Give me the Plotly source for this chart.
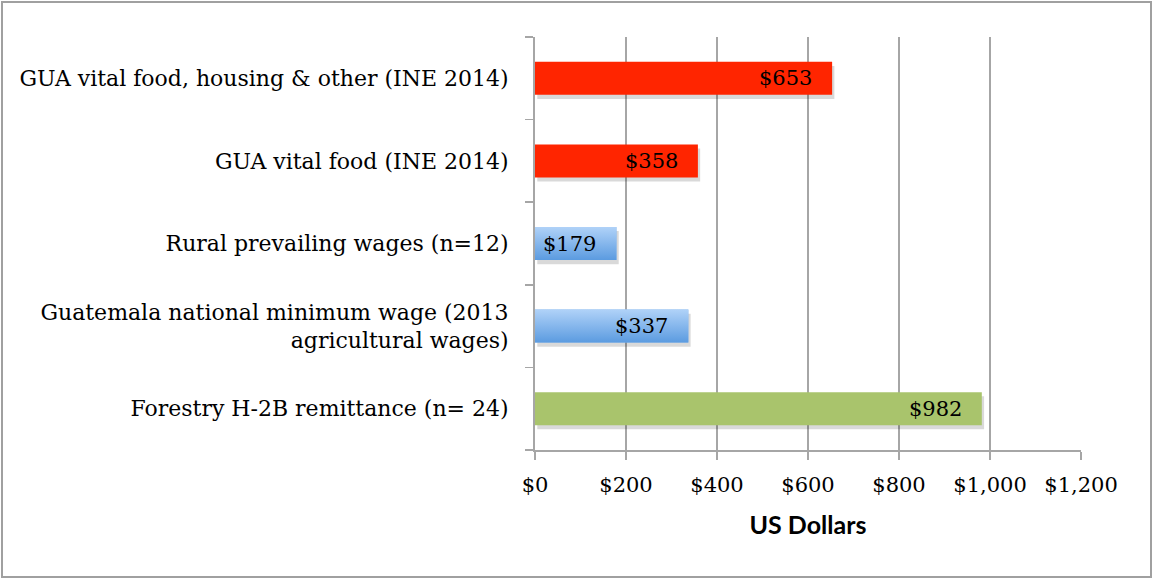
import plotly.graph_objects as go

categories = [
    "Forestry H-2B remittance (n= 24)",
    "Guatemala national minimum wage (2013<br>agricultural wages)",
    "Rural prevailing wages (n=12)",
    "GUA vital food (INE 2014)",
    "GUA vital food, housing & other (INE 2014)",
]
values = [982, 337, 179, 358, 653]
colors = ["#a9c46c", "#80b3ec", "#80b3ec", "#ff2500", "#ff2500"]
gradient = [False, True, True, False, False]
x_ticks = [0, 200, 400, 600, 800, 1000, 1200]
x_ticktext = ["$0", "$200", "$400", "$600", "$800", "$1,000", "$1,200"]

pos = list(range(len(categories)))
half = 0.2
serif = "DejaVu Serif"

fig = go.Figure()

# shadows
fig.add_trace(go.Bar(
    x=values, y=[p - 0.05 for p in pos], base=[5] * len(values), orientation="h",
    width=2 * half, marker=dict(color="rgba(0,0,0,0.15)", line=dict(width=0)),
    hoverinfo="skip", showlegend=False,
))

fig.add_trace(go.Bar(
    x=values, y=pos, orientation="h", width=2 * half,
    marker=dict(color=colors, line=dict(width=0)),
    hoverinfo="skip", showlegend=False,
))

# vertical gradient overlay for the blue bars
for v, p, g in zip(values, pos, gradient):
    if not g:
        continue
    fig.add_trace(go.Scatter(
        x=[0, v, v, 0, 0], y=[p - half, p - half, p + half, p + half, p - half],
        mode="lines", line=dict(width=0), fill="toself",
        fillgradient=dict(type="vertical",
                          colorscale=[[0, "#5b9be0"], [1, "#b0d2f8"]]),
        hoverinfo="skip", showlegend=False,
    ))

annotations = [
    dict(x=v, y=p, xref="x", yref="y", text=f"${v}", showarrow=False,
         xanchor="right", yanchor="middle", xshift=-18,
         font=dict(family=serif, size=21, color="black"))
    for v, p in zip(values, pos)
]

fig.update_layout(
    width=1153, height=578,
    margin=dict(l=535, r=72, t=37, b=128),
    plot_bgcolor="white", paper_bgcolor="white",
    bargap=0.6,
    hovermode=False,
    annotations=annotations,
    xaxis=dict(
        range=[0, 1200], tickvals=x_ticks, ticktext=x_ticktext,
        showgrid=True, gridcolor="#a6a6a6", gridwidth=1.5,
        showline=True, linecolor="#a6a6a6", linewidth=2,
        ticks="outside", ticklen=8, tickcolor="#a6a6a6", tickwidth=1.5,
        tickfont=dict(family=serif, size=21, color="black"),
        ticklabelstandoff=7,
        zeroline=False,
        title=dict(text="<b>US Dollars</b>", font=dict(family="Lato", size=25, color="black"), standoff=20),
    ),
    yaxis=dict(
        range=[-0.5, 4.5], tickvals=pos, ticktext=categories,
        showgrid=False, zeroline=False,
        showline=True, linecolor="#a6a6a6", linewidth=2,
        ticks="", ticklen=0,
        minor=dict(tick0=-0.5, dtick=1, ticks="outside", ticklen=8,
                   tickcolor="#a6a6a6", tickwidth=1.5, showgrid=False),
        tickfont=dict(family=serif, size=22, color="black"),
        ticklabelstandoff=20,
    ),
    shapes=[dict(type="rect", xref="paper", yref="paper",
                 x0=-533 / 546, x1=1 + 70 / 546,
                 y0=-127 / 413, y1=1 + 35 / 413,
                 line=dict(color="#a0a0a0", width=2), layer="below")],
)

fig.write_html("out.html", config={"displayModeBar": False, "staticPlot": True})

with open("out.html", "r", encoding="utf-8") as f:
    html = f.read()
html = html.replace("<head>", "<head><style>html,body{margin:0;padding:0;overflow:hidden;}</style>", 1)
with open("out.html", "w", encoding="utf-8") as f:
    f.write(html)
